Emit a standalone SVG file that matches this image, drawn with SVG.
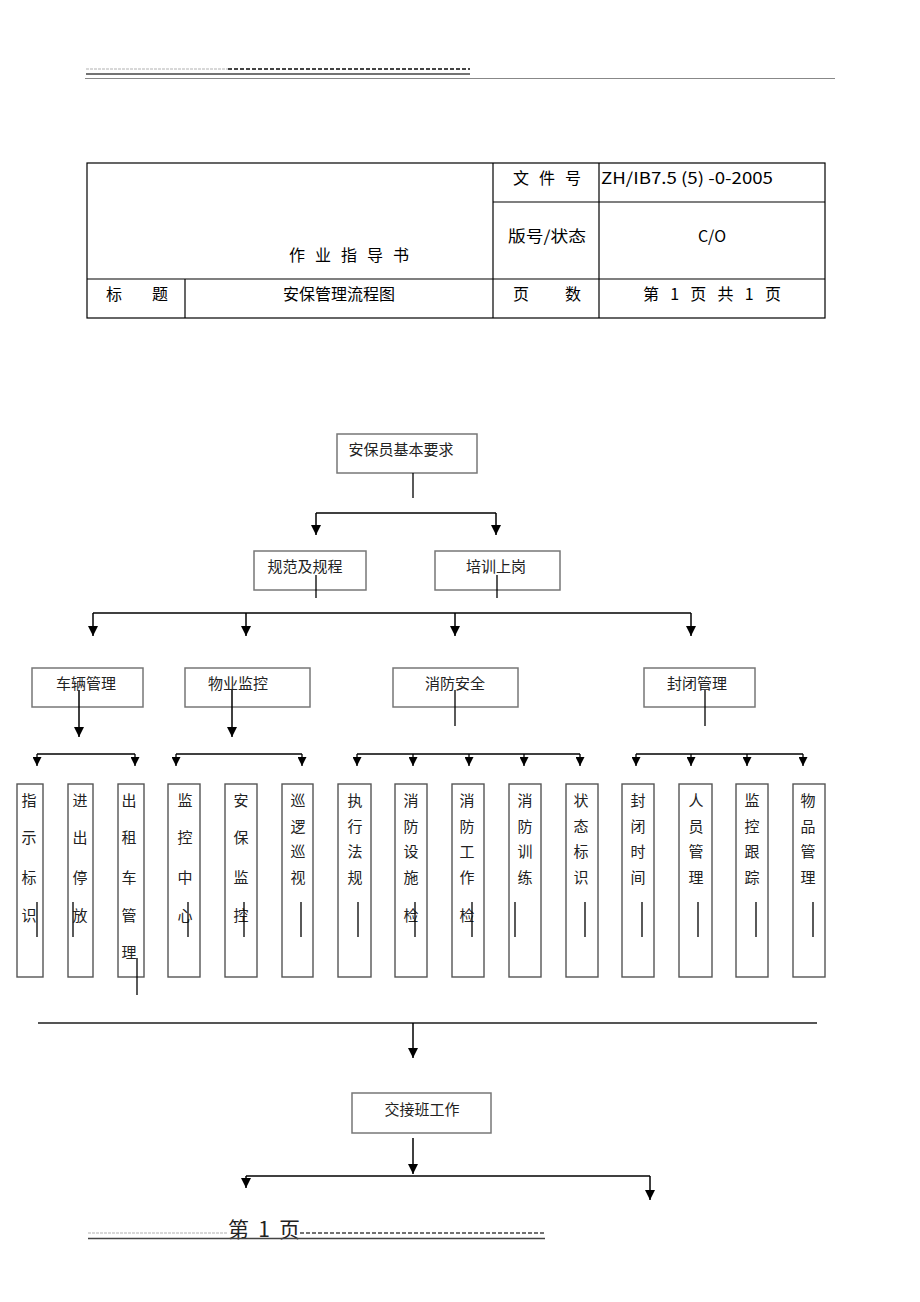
<svg xmlns="http://www.w3.org/2000/svg" width="920" height="1302" viewBox="0 0 920 1302">
<style>
.bg{fill:#fff}
.tbl{fill:none;stroke:#000;stroke-width:1.2}
.th{font-family:"Noto Sans CJK SC","Liberation Sans",sans-serif;font-size:16px;fill:#000}
.box{fill:#fff;stroke:#777;stroke-width:1.5}
.tbox{fill:#fff;stroke:#555;stroke-width:1.4}
.lbl{font-family:"Noto Sans CJK SC","Liberation Serif",serif;font-size:15px;fill:#222;text-anchor:middle}
.conn{stroke:#000;stroke-width:1.5;fill:none}
.stub{stroke:#000;stroke-width:1.3;fill:none}
.arr{stroke:#000;stroke-width:1.5;fill:none;marker-end:url(#ah)}
.arrs{stroke:#000;stroke-width:1.3;fill:none;marker-end:url(#ahs)}
</style>
<defs>
<marker id="ah" viewBox="0 0 10 10" refX="10" refY="5" markerWidth="10" markerHeight="10" markerUnits="userSpaceOnUse" orient="auto"><path d="M0,0 L10,5 L0,10 z" fill="#000"/></marker>
<marker id="ahs" viewBox="0 0 10 10" refX="10" refY="5" markerWidth="9" markerHeight="9" markerUnits="userSpaceOnUse" orient="auto"><path d="M0,0 L10,5 L0,10 z" fill="#000"/></marker>
</defs>
<rect class="bg" x="0" y="0" width="920" height="1302"/>

<g id="header">
<line x1="86" y1="69" x2="228" y2="69" stroke="#ccc" stroke-width="1.5" stroke-dasharray="3,1"/>
<line x1="228" y1="69" x2="470" y2="69" stroke="#444" stroke-width="2" stroke-dasharray="4,2"/>
<line x1="86" y1="74" x2="470" y2="74" stroke="#444" stroke-width="1.3"/>
<line x1="85" y1="78.5" x2="835" y2="78.5" stroke="#888" stroke-width="1.2"/>
</g>

<g id="title-table">
<rect class="tbl" x="87" y="163" width="738" height="155"/>
<line class="tbl" x1="493" y1="163" x2="493" y2="318"/>
<line class="tbl" x1="599" y1="163" x2="599" y2="318"/>
<line class="tbl" x1="493" y1="202" x2="825" y2="202"/>
<line class="tbl" x1="87" y1="279" x2="825" y2="279"/>
<line class="tbl" x1="185" y1="279" x2="185" y2="318"/>
<text class="th" x="513" y="184" textLength="68" lengthAdjust="spacing">文 件 号</text>
<text class="th" x="601" y="184" textLength="172" lengthAdjust="spacingAndGlyphs">ZH/IB7.5 (5) -0-2005</text>
<text class="th" x="508" y="242" textLength="78" lengthAdjust="spacingAndGlyphs">版号/状态</text>
<text class="th" x="712" y="242" text-anchor="middle">C/O</text>
<text class="th" x="289" y="261" textLength="120" lengthAdjust="spacing">作 业 指 导 书</text>
<text class="th" x="106" y="300" textLength="62" lengthAdjust="spacing">标  题</text>
<text class="th" x="339" y="300" text-anchor="middle">安保管理流程图</text>
<text class="th" x="513" y="300" textLength="68" lengthAdjust="spacing">页    数</text>
<text class="th" x="643" y="300" textLength="138" lengthAdjust="spacing">第 1 页  共 1 页</text>
</g>

<g id="n-root"><rect class="box" x="337" y="434" width="140" height="39"/><text class="lbl" x="401" y="455">安保员基本要求</text></g>
<g id="n-guifan"><rect class="box" x="254" y="551" width="112" height="39"/><text class="lbl" x="305" y="572">规范及规程</text></g>
<g id="n-peixun"><rect class="box" x="435" y="551" width="125" height="39"/><text class="lbl" x="496" y="572">培训上岗</text></g>
<g id="n-cheliang"><rect class="box" x="32" y="668" width="111" height="39"/><text class="lbl" x="86" y="689">车辆管理</text></g>
<g id="n-wuye"><rect class="box" x="185" y="668" width="125" height="39"/><text class="lbl" x="238" y="689">物业监控</text></g>
<g id="n-xiaofang"><rect class="box" x="393" y="668" width="125" height="39"/><text class="lbl" x="455" y="689">消防安全</text></g>
<g id="n-fengbi"><rect class="box" x="644" y="668" width="111" height="39"/><text class="lbl" x="697" y="689">封闭管理</text></g>

<g id="n-b1"><rect class="tbox" x="17" y="784" width="26" height="193"/><text class="lbl"><tspan x="29" y="806">指</tspan><tspan x="29" y="843">示</tspan><tspan x="29" y="883">标</tspan><tspan x="29" y="921">识</tspan></text></g>
<g id="n-b2"><rect class="tbox" x="68" y="784" width="25" height="193"/><text class="lbl"><tspan x="80" y="806">进</tspan><tspan x="80" y="843">出</tspan><tspan x="80" y="883">停</tspan><tspan x="80" y="921">放</tspan></text></g>
<g id="n-b3"><rect class="tbox" x="118" y="784" width="26" height="193"/><text class="lbl"><tspan x="129" y="806">出</tspan><tspan x="129" y="843">租</tspan><tspan x="129" y="883">车</tspan><tspan x="129" y="921">管</tspan><tspan x="129" y="958">理</tspan></text></g>
<g id="n-b4"><rect class="tbox" x="168" y="784" width="32" height="193"/><text class="lbl"><tspan x="185" y="806">监</tspan><tspan x="185" y="843">控</tspan><tspan x="185" y="883">中</tspan><tspan x="185" y="921">心</tspan></text></g>
<g id="n-b5"><rect class="tbox" x="225" y="784" width="32" height="193"/><text class="lbl"><tspan x="241" y="806">安</tspan><tspan x="241" y="843">保</tspan><tspan x="241" y="883">监</tspan><tspan x="241" y="921">控</tspan></text></g>
<g id="n-b6"><rect class="tbox" x="282" y="784" width="31" height="193"/><text class="lbl"><tspan x="298" y="806">巡</tspan><tspan x="298" y="832">逻</tspan><tspan x="298" y="857">巡</tspan><tspan x="298" y="883">视</tspan></text></g>
<g id="n-b7"><rect class="tbox" x="338" y="784" width="33" height="193"/><text class="lbl"><tspan x="355" y="806">执</tspan><tspan x="355" y="832">行</tspan><tspan x="355" y="857">法</tspan><tspan x="355" y="883">规</tspan></text></g>
<g id="n-b8"><rect class="tbox" x="395" y="784" width="32" height="193"/><text class="lbl"><tspan x="411" y="806">消</tspan><tspan x="411" y="832">防</tspan><tspan x="411" y="857">设</tspan><tspan x="411" y="883">施</tspan><tspan x="411" y="921">检</tspan></text></g>
<g id="n-b9"><rect class="tbox" x="452" y="784" width="32" height="193"/><text class="lbl"><tspan x="467" y="806">消</tspan><tspan x="467" y="832">防</tspan><tspan x="467" y="857">工</tspan><tspan x="467" y="883">作</tspan><tspan x="467" y="921">检</tspan></text></g>
<g id="n-b10"><rect class="tbox" x="509" y="784" width="32" height="193"/><text class="lbl"><tspan x="525" y="806">消</tspan><tspan x="525" y="832">防</tspan><tspan x="525" y="857">训</tspan><tspan x="525" y="883">练</tspan></text></g>
<g id="n-b11"><rect class="tbox" x="566" y="784" width="32" height="193"/><text class="lbl"><tspan x="581" y="806">状</tspan><tspan x="581" y="832">态</tspan><tspan x="581" y="857">标</tspan><tspan x="581" y="883">识</tspan></text></g>
<g id="n-b12"><rect class="tbox" x="622" y="784" width="32" height="193"/><text class="lbl"><tspan x="638" y="806">封</tspan><tspan x="638" y="832">闭</tspan><tspan x="638" y="857">时</tspan><tspan x="638" y="883">间</tspan></text></g>
<g id="n-b13"><rect class="tbox" x="679" y="784" width="33" height="193"/><text class="lbl"><tspan x="696" y="806">人</tspan><tspan x="696" y="832">员</tspan><tspan x="696" y="857">管</tspan><tspan x="696" y="883">理</tspan></text></g>
<g id="n-b14"><rect class="tbox" x="736" y="784" width="32" height="193"/><text class="lbl"><tspan x="752" y="806">监</tspan><tspan x="752" y="832">控</tspan><tspan x="752" y="857">跟</tspan><tspan x="752" y="883">踪</tspan></text></g>
<g id="n-b15"><rect class="tbox" x="793" y="784" width="32" height="193"/><text class="lbl"><tspan x="808" y="806">物</tspan><tspan x="808" y="832">品</tspan><tspan x="808" y="857">管</tspan><tspan x="808" y="883">理</tspan></text></g>

<g id="n-jiaojie"><rect class="box" x="352" y="1093" width="139" height="40"/><text class="lbl" x="422" y="1115">交接班工作</text></g>

<g id="connectors">
<line class="stub" x1="413" y1="473" x2="413" y2="498"/>
<line class="conn" x1="316" y1="513" x2="496" y2="513"/>
<line class="arr" x1="316" y1="513" x2="316" y2="535"/>
<line class="arr" x1="496" y1="513" x2="496" y2="535"/>
<line class="stub" x1="316" y1="575" x2="316" y2="598"/>
<line class="stub" x1="497" y1="575" x2="497" y2="598"/>
<line class="conn" x1="93" y1="613" x2="691" y2="613"/>
<line class="arr" x1="93" y1="613" x2="93" y2="636"/>
<line class="arr" x1="246" y1="613" x2="246" y2="636"/>
<line class="arr" x1="455" y1="613" x2="455" y2="636"/>
<line class="arr" x1="691" y1="613" x2="691" y2="636"/>
<line class="arr" x1="79" y1="690" x2="79" y2="737"/>
<line class="arr" x1="232" y1="690" x2="232" y2="737"/>
<line class="stub" x1="455" y1="690" x2="455" y2="726"/>
<line class="stub" x1="705" y1="690" x2="705" y2="726"/>
<line class="conn" x1="37" y1="754" x2="135" y2="754"/>
<line class="arrs" x1="37" y1="754" x2="37" y2="766"/>
<line class="arrs" x1="135" y1="754" x2="135" y2="766"/>
<line class="conn" x1="176" y1="754" x2="302" y2="754"/>
<line class="arrs" x1="176" y1="754" x2="176" y2="766"/>
<line class="arrs" x1="302" y1="754" x2="302" y2="766"/>
<line class="conn" x1="357" y1="754" x2="580" y2="754"/>
<line class="arrs" x1="357" y1="754" x2="357" y2="766"/>
<line class="arrs" x1="413" y1="754" x2="413" y2="766"/>
<line class="arrs" x1="469" y1="754" x2="469" y2="766"/>
<line class="arrs" x1="524" y1="754" x2="524" y2="766"/>
<line class="arrs" x1="580" y1="754" x2="580" y2="766"/>
<line class="conn" x1="636" y1="754" x2="803" y2="754"/>
<line class="arrs" x1="636" y1="754" x2="636" y2="766"/>
<line class="arrs" x1="691" y1="754" x2="691" y2="766"/>
<line class="arrs" x1="747" y1="754" x2="747" y2="766"/>
<line class="arrs" x1="803" y1="754" x2="803" y2="766"/>
<line class="stub" x1="37" y1="902" x2="37" y2="937"/>
<line class="stub" x1="73" y1="902" x2="73" y2="937"/>
<line class="stub" x1="137" y1="958" x2="137" y2="995"/>
<line class="stub" x1="188" y1="902" x2="188" y2="937"/>
<line class="stub" x1="244" y1="902" x2="244" y2="937"/>
<line class="stub" x1="301" y1="902" x2="301" y2="937"/>
<line class="stub" x1="358" y1="902" x2="358" y2="937"/>
<line class="stub" x1="415" y1="902" x2="415" y2="937"/>
<line class="stub" x1="472" y1="902" x2="472" y2="937"/>
<line class="stub" x1="515" y1="902" x2="515" y2="937"/>
<line class="stub" x1="585" y1="902" x2="585" y2="937"/>
<line class="stub" x1="642" y1="902" x2="642" y2="937"/>
<line class="stub" x1="698" y1="902" x2="698" y2="937"/>
<line class="stub" x1="756" y1="902" x2="756" y2="937"/>
<line class="stub" x1="813" y1="902" x2="813" y2="937"/>
<line x1="38" y1="1023" x2="817" y2="1023" stroke="#555" stroke-width="2"/>
<line class="arr" x1="413" y1="1023" x2="413" y2="1058"/>
<line class="arr" x1="413" y1="1138" x2="413" y2="1174"/>
<line class="conn" x1="246" y1="1176" x2="650" y2="1176"/>
<line class="arr" x1="246" y1="1176" x2="246" y2="1188"/>
<line class="arr" x1="650" y1="1176" x2="650" y2="1200"/>
</g>

<g id="footer">
<line x1="88" y1="1233" x2="228" y2="1233" stroke="#ccc" stroke-width="1.5" stroke-dasharray="3,1"/>
<text x="228" y="1237" font-family="Noto Sans CJK SC, Liberation Serif, serif" font-size="21" fill="#222" textLength="72" lengthAdjust="spacing">第 1 页</text>
<line x1="300" y1="1233" x2="545" y2="1233" stroke="#444" stroke-width="1.6" stroke-dasharray="4,2"/>
<line x1="88" y1="1238.5" x2="545" y2="1238.5" stroke="#444" stroke-width="1.3"/>
</g>
</svg>
